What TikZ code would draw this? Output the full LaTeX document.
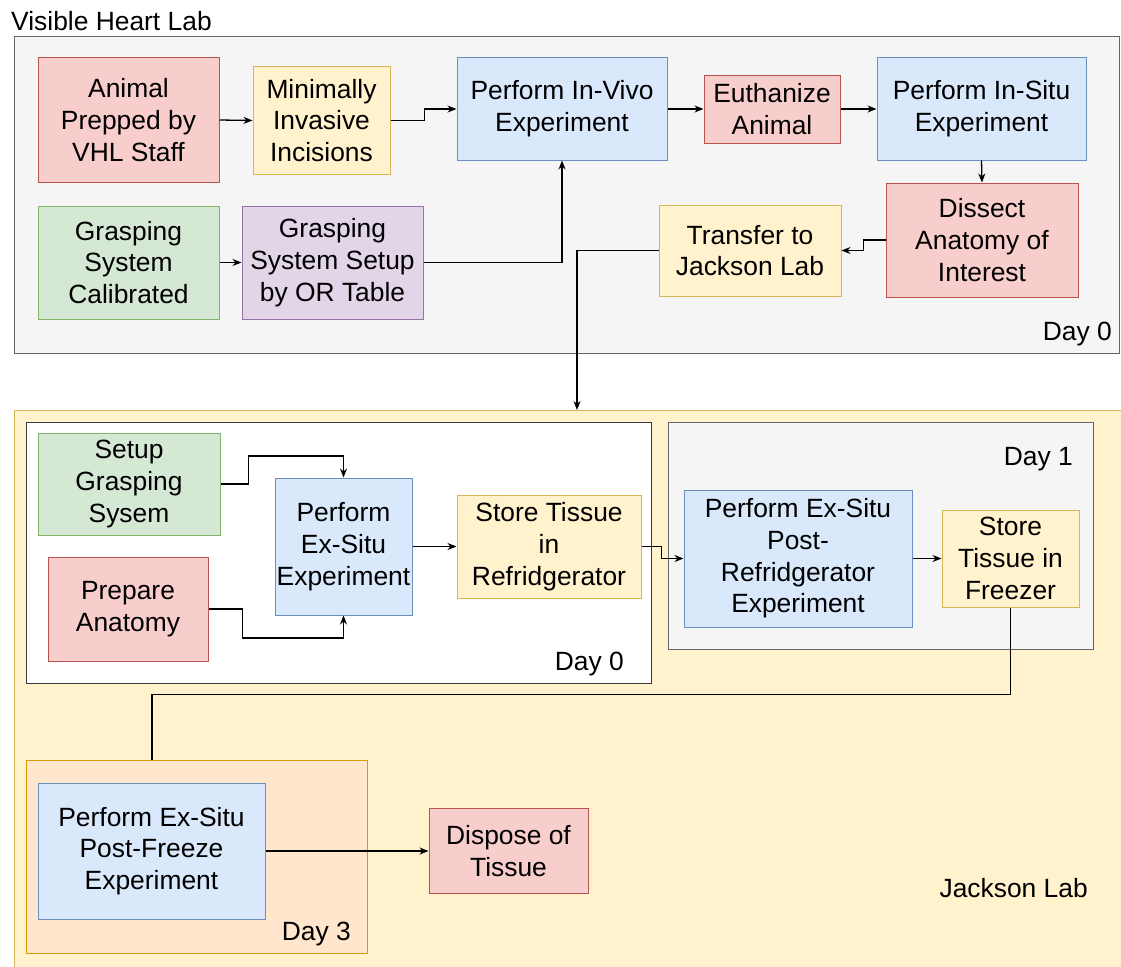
\documentclass[tikz,border=0pt]{standalone}
\usepackage{fontspec}
\setmainfont{Liberation Sans}
\usetikzlibrary{arrows.meta}
\definecolor{redF}{HTML}{F8CECC}\definecolor{redS}{HTML}{B85450}
\definecolor{yelF}{HTML}{FFF2CC}\definecolor{yelS}{HTML}{D6B656}
\definecolor{bluF}{HTML}{DAE8FC}\definecolor{bluS}{HTML}{6C8EBF}
\definecolor{grnF}{HTML}{D5E8D4}\definecolor{grnS}{HTML}{82B366}
\definecolor{purF}{HTML}{E1D5E7}\definecolor{purS}{HTML}{9673A6}
\definecolor{gryF}{HTML}{F5F5F5}\definecolor{gryS}{HTML}{666666}
\definecolor{orgF}{HTML}{FFE6CC}\definecolor{orgS}{HTML}{D79B00}
\definecolor{darkS}{HTML}{36393D}
\tikzset{
  txt/.style={font=\fontsize{26.4}{31.7}\selectfont},
  box/.style={rectangle, draw, inner sep=0pt, align=center, line width=1pt, txt},
  rbox/.style={box, fill=redF, draw=redS},
  ybox/.style={box, fill=yelF, draw=yelS},
  bbox/.style={box, fill=bluF, draw=bluS},
  gbox/.style={box, fill=grnF, draw=grnS},
  pbox/.style={box, fill=purF, draw=purS},
  cont/.style={rectangle, inner sep=0pt, line width=1pt},
  lbl/.style={txt, inner sep=0pt, anchor=base east},
  arr/.style={line width=1.3pt, -{Stealth[length=9pt,width=7pt]}},
  conn/.style={line width=1.3pt},
}
\begin{document}
\begin{tikzpicture}[x=1pt,y=-1pt]
\useasboundingbox (0,0) rectangle (1121,966);
\fill[white] (0,0) rectangle (1121,966);

% containers
\node[cont, draw=gryS, fill=gryF, minimum width=1105pt, minimum height=316pt] (vhl) at (566.5,195) {};
\node[cont, draw=yelS, fill=yelF, minimum width=1115pt, minimum height=560pt] (jl) at (571.5,690) {};
\node[cont, draw=darkS, fill=white, minimum width=625pt, minimum height=261pt] (d0) at (338.5,552.5) {};
\node[cont, draw=gryS, fill=gryF, minimum width=425pt, minimum height=227pt] (d1) at (880.5,535.5) {};
\node[cont, draw=orgS, fill=orgF, minimum width=341pt, minimum height=193pt] (d3) at (196.5,856.5) {};

% labels
\node[txt, inner sep=0pt, anchor=base west] (tvhl) at (11,31) {Visible Heart Lab};
\node[lbl] (tday0a) at (1112,340) {Day 0};
\node[lbl] (tday0b) at (624,670) {Day 0};
\node[lbl] (tday1) at (1073,465) {Day 1};
\node[lbl] (tday3) at (351,940) {Day 3};
\node[lbl] (tjl) at (1088,897) {Jackson Lab};

% Visible Heart Lab nodes
\node[rbox, minimum width=181pt, minimum height=124pt] (anim) at (128.5,120) {Animal\\Prepped by\\VHL Staff};
\node[ybox, minimum width=137pt, minimum height=107pt] (minv) at (321.5,120.5) {Minimally\\Invasive\\Incisions};
\node[bbox, minimum width=210pt, minimum height=102pt] (invivo) at (562,109) {Perform In-Vivo\\Experiment};
\node[rbox, minimum width=136pt, minimum height=68pt] (euth) at (772,109) {Euthanize\\Animal};
\node[bbox, minimum width=209pt, minimum height=102pt] (insitu) at (981.5,109) {Perform In-Situ\\Experiment};
\node[rbox, minimum width=192pt, minimum height=114pt] (dissect) at (982,240) {Dissect\\Anatomy of\\Interest};
\node[ybox, minimum width=182pt, minimum height=91pt] (transfer) at (750,250.5) {Transfer to\\Jackson Lab};
\node[gbox, minimum width=181pt, minimum height=113pt] (calib) at (128.5,262.5) {Grasping\\System\\Calibrated};
\node[pbox, minimum width=181pt, minimum height=113pt] (setup) at (332.5,262.5) {Grasping\\System Setup\\by OR Table};

% Jackson Lab Day 0
\node[gbox, minimum width=182pt, minimum height=102pt] (sgs) at (129,484) {Setup\\Grasping\\Sysem};
\node[rbox, minimum width=160pt, minimum height=104pt] (prep) at (128,609) {Prepare\\Anatomy};
\node[bbox, minimum width=137pt, minimum height=137pt] (exsitu) at (343.5,546.5) {Perform\\Ex-Situ\\Experiment};
\node[ybox, minimum width=184pt, minimum height=103pt] (storer) at (549,546.5) {Store Tissue\\in\\Refridgerator};

% Day 1
\node[bbox, minimum width=228pt, minimum height=137pt] (postr) at (798,558.5) {Perform Ex-Situ\\Post-\\Refridgerator\\Experiment};
\node[ybox, minimum width=137pt, minimum height=97pt] (freezer) at (1010.5,558.5) {Store\\Tissue in\\Freezer};

% Day 3
\node[bbox, minimum width=227pt, minimum height=136pt] (postf) at (151.5,851) {Perform Ex-Situ\\Post-Freeze\\Experiment};
\node[rbox, minimum width=159pt, minimum height=85pt] (dispose) at (508.5,851) {Dispose of\\Tissue};

\coordinate (jin) at (577,410);
\coordinate (d3in) at (152,760);

% connectors
\draw[arr] (anim.east) -- (minv.west);
\draw[arr] (minv.east) -- ++(34,0) |- (invivo.west);
\draw[arr] (calib.east) -- (setup.west);
\draw[arr] (setup.east) -| (invivo.south);
\draw[arr] (invivo.east) -- (euth.west);
\draw[arr] (euth.east) -- (insitu.west);
\draw[arr] (insitu.south) -- (dissect.north);
\draw[arr] (dissect.west) -- ++(-22,0) |- (transfer.east);
\draw[arr] (transfer.west) -| (jin);
\draw[arr] (sgs.east) -- ++(28,0) -- ++(0,-28) -| (exsitu.north);
\draw[arr] (prep.east) -- ++(34,0) -- ++(0,29) -| (exsitu.south);
\draw[arr] (exsitu.east) -- (storer.west);
\draw[arr] (storer.east) -- ++(20,0) |- (postr.west);
\draw[arr] (postr.east) -- (freezer.west);
\draw[conn] (freezer.south) -- ++(0,87) -| (d3in);
\draw[arr] (postf.east) -- (dispose.west);
\end{tikzpicture}
\end{document}
